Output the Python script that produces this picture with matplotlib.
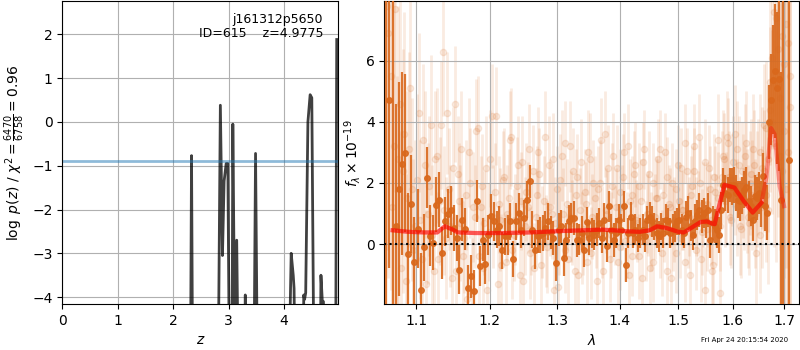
import numpy as np
import matplotlib
matplotlib.use('Agg')
import matplotlib.pyplot as plt

# p(z) curve
z_grid = [0.0, 2.31, 2.33, 2.35, 2.81, 2.85, 2.888, 2.918, 2.955, 2.985, 3.015,
          3.06, 3.075, 3.11, 3.145, 3.175, 3.29, 3.30, 3.31, 3.455, 3.485, 3.52,
          4.085, 4.128, 4.165, 4.18, 4.20, 4.34, 4.355, 4.37, 4.39, 4.43, 4.47,
          4.50, 4.54, 4.65, 4.665, 4.69, 4.71, 4.73, 4.93, 4.95]
log_pz = [-6, -6, -0.77, -6, -6, 0.38, -3.05, -1.35, -0.95, -0.95, -6,
          -6, -0.05, -5, -2.7, -6, -6, -3.95, -6, -6, -0.72, -6,
          -6, -3.0, -3.5, -3.8, -6, -6, -3.95, -4.05, -3.9, 0.0, 0.62,
          0.55, -6, -6, -3.5, -4.1, -4.1, -6, -6, 1.88]
pz_cut = -0.883

# spectrum, binned (dark points), 163 pixels from 1.062 um, step 0.004 um
lam0 = 1.062
dlam = 0.004
nan = np.nan
flux_bin = [9.0, 4.73, -2.5, 0.6, 1.8, 2.63, 2.98, -0.32, 1.32, -0.6,
            0.5, -1.5, -0.1, 2.17, 0.27, 0.04, 1.29, 1.45, -0.28, 0.74,
            1.0, 1.1, 0.52, 0.2, -0.84, 0.8, 0.49, -1.44, -1.06, -1.55,
            1.41, -0.71, 0.14, -0.65, 0.3, 0.93,
            0.74, 0.47, 0.58, -0.21, 0.25, 0.3, 0.74, -0.49, 0.74, 1.02,
            0.47, 0.85, 1.45, 2.05, 0.47, -0.21, 0.25, 0.3, 0.36, 0.52,
            0.74, 0.38, 0.2, -0.62, 0.47, 0.58, -0.46, 0.14, 0.74, 0.85,
            0.85, 0.14, 0.14, 0.36, -0.19, 0.71, 0.2, 0.36,
            0.3, 0.47, 0.69, 0.2, 0.8, -0.08, 1.23, 0.47, 0.14, 0.36,
            0.8, 0.47, 1.23, -0.68, 0.36, 0.88, 0.36, 0.47, 0.2, 0.36,
            0.47, 0.25, 0.8, 0.88, 0.74, 0.58, 0.36, 0.25, 0.58, 0.36,
            0.8, 0.74, 0.36, 0.47, 0.58, 0.74, 0.8, 0.47, 0.36, 0.9,
            1.02, 0.6, 0.3, 0.75, 0.95,
            1.12, 0.9, 1.02, 0.74, 1.12, 0.14, 0.69, 0.6, 0.47, 0.3,
            1.1, 1.94, 1.67, 1.61, 1.94, 1.88, 1.94, 1.67, 1.45, 1.40,
            1.6, 1.78, 1.88, 1.40, 1.25, 0.8, 1.56, 1.5, 1.67, 1.3,
            2.22, 1.23, 1.02, 4.0, 4.73, 5.39, 5.66, 5.11, 5.4, 1.45,
            9.5, nan, nan, 2.76]
err_bin = [12, 5.5, 12, 4.0, 3.5, 3.0, 2.6, 2.0, 1.6, 1.5,
           1.3, 1.2, 1.1, 1.0, 1.0, 0.9, 0.9, 0.9, 0.85, 0.8,
           0.8, 0.8, 0.75, 0.75, 0.8, 0.7, 0.7, 0.75, 0.7, 0.7,
           0.7, 0.65, 0.7, 0.65, 0.65, 0.7, 0.65, 0.6, 0.65, 0.6,
           0.6, 0.65, 0.6, 0.6, 0.6, 0.65, 0.6, 0.6, 0.6, 0.55,
           0.6, 0.6, 0.55, 0.6, 0.6, 0.55, 0.6, 0.55, 0.55, 0.6,
           0.55, 0.55, 0.6, 0.55, 0.55, 0.5, 0.55, 0.55, 0.5, 0.55,
           0.55, 0.5, 0.55, 0.5, 0.5, 0.55, 0.5, 0.5, 0.55, 0.5,
           0.5, 0.5, 0.55, 0.5, 0.5, 0.5, 0.5, 0.55, 0.5, 0.5,
           0.5, 0.5, 0.45, 0.5, 0.5, 0.5, 0.45, 0.5, 0.5, 0.45,
           0.5, 0.5, 0.45, 0.5, 0.5, 0.45, 0.5, 0.5, 0.5, 0.45,
           0.5, 0.5, 0.5, 0.5, 0.55, 0.5, 0.5, 0.55, 0.5, 0.55,
           0.55, 0.5, 0.55, 0.55, 0.6, 0.55, 0.55, 0.6, 0.6, 0.6,
           0.55, 0.6, 0.6, 0.55, 0.6, 0.6, 0.6, 0.6, 0.65, 0.6,
           0.6, 0.65, 0.65, 0.65, 0.7, 0.7, 0.7, 0.7, 0.75, 0.75,
           0.8, 0.9, 1.2, 1.5, 1.8, 2.2, 2.5, 3.0, 4.2, 12,
           nan, nan, 12]

# individual beams (faint points)
flux_beam_a = [7.8, 5.5, 3.2, 0.5, 4.6, 2.4, -1.2, 3.1, 1.8, 0.6,
               4.3, -0.5, 2.6, 1.0, 3.9, -0.9, 2.9, 1.4, 6.3, 0.2,
               1.8, -1.1, 4.6, 2.3, 0.7, -0.4, 1.6, 3.0, -1.6, 0.9,
               3.8, 1.2, -0.8, 2.5, 0.4, 4.2, 1.7, -1.3, 0.8, 2.1,
               -0.6, 1.5, 3.5, 0.3, 1.9, -1.0, 2.7, 0.6, 1.2, -0.3,
               2.4, 0.9, 3.0, -0.7, 1.4, 0.1, 2.6, 1.0, -1.5, 1.8,
               0.5, 2.9, -0.2, 1.3, 3.2, 0.7, -0.9, 2.2, 1.1, 0.2,
               1.7, -0.6, 2.8, 0.9, 1.5, -1.2, 2.0, 0.4, 3.6, 1.0,
               -0.5, 1.9, 0.6, 2.5, -0.1, 1.2, 3.0, 0.3, -1.0, 1.6,
               2.3, 0.8, -0.4, 1.4, 2.7, 0.1, 1.0, -0.8, 2.0, 0.9,
               1.5, 3.1, -0.3, 0.7, 2.2, 1.3, -1.1, 0.5, 1.8, 2.6,
               0.2, 1.1, -0.6, 2.4, 0.9, 1.6, 3.2, -0.2, 1.0, 2.0,
               0.4, -1.5, 1.3, 2.5, 0.8, -0.7, 1.7, 3.4, 0.6, 2.2,
               2.8, 1.5, 3.3, 0.9, 2.1, 3.6, 1.2, 2.6, 0.5, 1.9,
               2.9, 1.4, 0.7, 2.3, 3.1, 1.0, 1.8, 0.3, 2.5, 3.9,
               1.6, 2.8, 4.4, 6.1, 3.3, 7.4, 5.2, 2.9, 6.8, 3.7,
               1.8, 6.6, 4.5]
flux_beam_b = [6.9, 1.2, 7.7, 2.8, -0.8, 3.6, 1.5, 5.1, -0.2, 2.1,
               0.8, 3.4, -1.3, 1.9, 0.3, 2.8, -0.5, 3.9, 1.1, 4.3,
               0.6, 2.5, -0.9, 1.4, 3.1, 0.2, -1.8, 2.0, 1.2, 3.7,
               -0.4, 1.9, 0.7, -1.5, 2.8, 0.9, 4.2, 1.3, -0.7, 2.2,
               1.0, 3.4, -0.2, 0.8, 2.6, 1.4, -1.2, 1.7, 3.1, 0.5,
               -0.8, 1.6, 2.3, 0.4, 3.5, -0.1, 1.2, 2.8, 0.7, -1.4,
               2.1, 1.0, 3.3, -0.5, 0.9, 2.4, 1.6, -1.0, 2.7, 0.5,
               1.3, 3.0, -0.3, 2.0, 0.6, 1.8, 3.4, -0.9, 1.1, 2.5,
               0.3, 2.9, 1.2, -0.6, 1.7, 2.2, 0.1, 3.2, 1.4, -0.4,
               2.6, 0.7, 1.9, -1.1, 3.1, 1.0, 2.3, 0.4, -0.6, 1.5,
               2.8, 0.2, 1.6, 3.0, -0.9, 1.2, 2.0, 0.8, -0.3, 1.4,
               2.5, 1.1, 3.3, 0.6, -1.0, 1.9, 2.4, 0.9, 3.5, -0.5,
               1.3, 2.7, 0.5, 1.8, -0.9, 2.2, 0.8, 1.5, -1.6, 2.9,
               1.4, 3.5, 2.2, 0.8, 2.7, 1.9, 3.1, 0.6, 2.4, 1.5,
               3.3, 0.9, 2.0, 1.6, 2.6, -0.3, 2.2, 3.0, 1.2, 2.4,
               3.8, 1.1, 5.3, 4.0, 7.6, 3.2, 6.4, 4.8, 2.4, 5.9,
               7.2, 3.0, 5.5]
err_beam = [8, 7, 6, 5, 4.5, 4, 3.5, 3.2, 3.0, 2.8,
            2.6, 2.5, 2.4, 2.3, 2.3, 2.2, 2.2, 2.1, 2.1, 2.0,
            2.0, 2.0, 1.9, 1.9, 1.9, 1.8, 1.8, 1.8, 1.8, 1.7,
            1.7, 1.7, 1.7, 1.7, 1.6, 1.7, 1.6, 1.6, 1.7, 1.6,
            1.6, 1.6, 1.6, 1.5, 1.6, 1.6, 1.5, 1.6, 1.5, 1.5,
            1.5, 1.6, 1.5, 1.5, 1.5, 1.5, 1.6, 1.5, 1.5, 1.4,
            1.5, 1.5, 1.4, 1.5, 1.5, 1.4, 1.5, 1.4, 1.4, 1.5,
            1.4, 1.4, 1.5, 1.4, 1.4, 1.4, 1.4, 1.5, 1.4, 1.4,
            1.4, 1.4, 1.3, 1.4, 1.4, 1.4, 1.3, 1.4, 1.4, 1.3,
            1.4, 1.3, 1.4, 1.4, 1.3, 1.3, 1.4, 1.3, 1.3, 1.4,
            1.3, 1.3, 1.4, 1.3, 1.3, 1.3, 1.3, 1.4, 1.3, 1.3,
            1.3, 1.3, 1.3, 1.4, 1.3, 1.3, 1.4, 1.3, 1.4, 1.4,
            1.4, 1.4, 1.4, 1.4, 1.5, 1.4, 1.5, 1.5, 1.5, 1.5,
            1.5, 1.5, 1.5, 1.6, 1.5, 1.6, 1.6, 1.6, 1.6, 1.7,
            1.7, 1.7, 1.7, 1.8, 1.8, 1.8, 1.9, 1.9, 2.0, 2.0,
            2.2, 2.4, 2.7, 3.0, 3.4, 3.8, 4.3, 5, 6, 7,
            8, 9, 10]

# best-fit model
lam_model = [1.070, 1.09, 1.11, 1.128, 1.138, 1.148, 1.156, 1.18, 1.22, 1.26,
             1.30, 1.34, 1.37, 1.39, 1.41, 1.433, 1.45, 1.463, 1.48, 1.50,
             1.51, 1.525, 1.54, 1.552, 1.56, 1.566, 1.575, 1.584, 1.603, 1.621,
             1.638, 1.655, 1.665, 1.674, 1.681, 1.691, 1.700]
flux_model = [0.45, 0.4, 0.38, 0.38, 0.58, 0.48, 0.38, 0.36, 0.36, 0.38,
              0.42, 0.45, 0.47, 0.45, 0.42, 0.40, 0.45, 0.58, 0.52, 0.40,
              0.38, 0.55, 0.72, 0.74, 0.68, 0.65, 1.3, 1.94, 1.85, 1.4,
              1.03, 1.35, 2.2, 3.8, 3.6, 1.9, 1.24]

xticks_lam = [1.1, 1.2, 1.3, 1.4, 1.5, 1.6, 1.7]
xtick_labels = ['1.1', '1.2', '1.3', '1.4', '1.5', '1.6', '1.7']

lam = lam0 + dlam * np.arange(len(flux_bin))
col = '#d9681c'

fig = plt.figure(figsize=(8, 3.5), dpi=100)

# left: p(z)
ax1 = fig.add_axes([0.078, 0.131, 0.345, 0.865])
ax1.plot(z_grid, log_pz, color='k', alpha=0.75, lw=2)
ax1.axhline(pz_cut, color='tab:blue', alpha=0.5, lw=2)
ax1.set_xlim(0, 4.98)
ax1.set_ylim(-4.16, 2.75)
ax1.set_xticks([0, 1, 2, 3, 4])
ax1.set_yticks([-4, -3, -2, -1, 0, 1, 2])
ax1.grid()
ax1.set_xlabel('$z$')
ax1.set_ylabel(r'$\log\ p(z)$ / $\chi^2=\frac{6470}{6758}=0.96$')
ax1.text(0.945, 0.963, 'j161312p5650\nID=615    z=4.9775', transform=ax1.transAxes,
         ha='right', va='top', fontsize=9, linespacing=1.1)

# right: spectrum
ax2 = fig.add_axes([0.4804, 0.131, 0.5188, 0.865])
ax2.errorbar(lam + 0.0013, flux_beam_a, err_beam, fmt='o', color=col, alpha=0.13,
             ms=4.5, elinewidth=2, zorder=1)
ax2.errorbar(lam + 0.0027, flux_beam_b, err_beam, fmt='o', color=col, alpha=0.13,
             ms=4.5, elinewidth=2, zorder=1)
ax2.errorbar(lam, flux_bin, err_bin, fmt='o', color=col, alpha=0.9, ms=4,
             elinewidth=1.6, zorder=3)
ax2.plot(lam_model, flux_model, color='r', alpha=0.35, lw=3, zorder=4)
ax2.plot(lam_model[:32], flux_model[:32], color='r', alpha=0.45, lw=3, zorder=4)
ax2.axhline(0, color='k', ls=':', lw=1.5, zorder=5)

ax2.set_xscale('log')
ax2.set_xlim(1.0595, 1.731)
ax2.set_ylim(-1.97, 7.95)
ax2.set_xticks(xticks_lam)
ax2.set_xticklabels(xtick_labels)
ax2.xaxis.set_minor_locator(matplotlib.ticker.NullLocator())
ax2.set_yticks([0, 2, 4, 6])
ax2.grid()
ax2.set_xlabel(r'$\lambda$')
ax2.set_ylabel(r'$f_\lambda\times10^{-19}$', labelpad=2)

fig.text(0.985, 0.022, 'Fri Apr 24 20:15:54 2020', ha='right', fontsize=5)

fig.savefig('out.png', dpi=100)
